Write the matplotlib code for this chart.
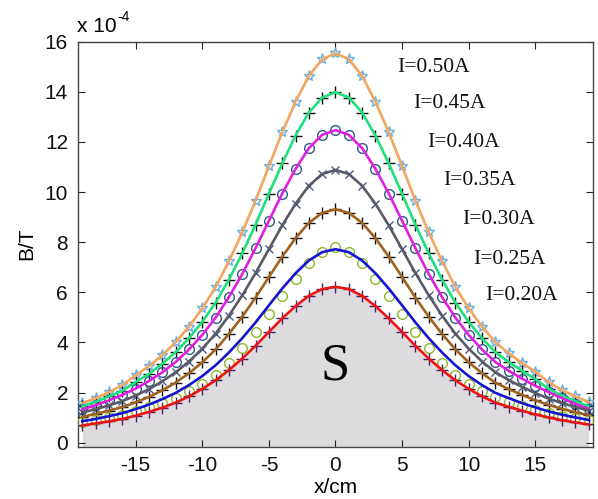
import matplotlib
matplotlib.use("Agg")
import matplotlib.pyplot as plt

plt.rcParams["axes.unicode_minus"] = False

x_cm = list(range(-19, 20))

red = [0.69,0.77,0.85,0.95,1.08,1.23,1.40,1.60,1.85,2.15,2.49,2.90,3.36,3.87,4.42,4.96,5.45,5.86,6.13,6.22,
       6.13,5.86,5.45,4.96,4.42,3.87,3.36,2.90,2.49,2.15,1.85,1.60,1.43,1.28,1.13,1.01,0.90,0.81,0.73]
blue = [0.86,0.95,1.06,1.18,1.34,1.52,1.74,1.99,2.30,2.66,3.09,3.60,4.17,4.80,5.48,6.15,6.76,7.27,7.60,7.72,
        7.60,7.27,6.76,6.15,5.48,4.80,4.17,3.60,3.09,2.66,2.30,1.99,1.78,1.58,1.41,1.25,1.12,1.01,0.91]
blue_pts = [0.84,0.92,1.02,1.12,1.26,1.42,1.60,1.80,2.05,2.35,2.72,3.20,3.77,4.42,5.12,5.85,6.55,7.15,7.60,7.80,
            7.60,7.15,6.55,5.85,5.12,4.42,3.77,3.20,2.72,2.35,2.05,1.82,1.62,1.45,1.30,1.17,1.06,0.97,0.89]
brown = [1.03,1.15,1.28,1.42,1.61,1.83,2.09,2.40,2.77,3.21,3.72,4.34,5.03,5.79,6.61,7.42,8.16,8.77,9.17,9.31,
         9.17,8.77,8.16,7.42,6.61,5.79,5.03,4.34,3.72,3.21,2.77,2.40,2.14,1.91,1.69,1.51,1.35,1.22,1.10]
gray = [1.21,1.34,1.49,1.66,1.88,2.14,2.45,2.81,3.24,3.75,4.35,5.07,5.88,6.77,7.72,8.67,9.53,10.25,10.72,10.88,
        10.72,10.25,9.53,8.67,7.72,6.77,5.88,5.07,4.35,3.75,3.24,2.81,2.50,2.23,1.98,1.76,1.58,1.43,1.28]
magenta = [1.33,1.50,1.69,1.91,2.16,2.46,2.81,3.22,3.72,4.30,4.99,5.81,6.73,7.76,8.85,9.94,10.92,11.75,12.28,12.47,
           12.28,11.75,10.92,9.94,8.85,7.76,6.73,5.81,4.99,4.30,3.72,3.22,2.87,2.56,2.27,2.02,1.78,1.55,1.35]
green = [1.45,1.63,1.85,2.08,2.42,2.75,3.15,3.61,4.17,4.82,5.59,6.51,7.55,8.70,9.93,11.14,12.25,13.17,13.77,13.98,
         13.77,13.17,12.25,11.14,9.93,8.70,7.55,6.51,5.59,4.82,4.17,3.61,3.22,2.87,2.54,2.15,1.88,1.66,1.45]
orange = [1.58,1.78,2.02,2.30,2.69,3.06,3.49,4.01,4.63,5.36,6.21,7.24,8.39,9.66,11.03,12.38,13.60,14.63,15.30,15.53,
          15.30,14.63,13.60,12.38,11.03,9.66,8.39,7.24,6.21,5.36,4.63,4.01,3.57,3.18,2.83,2.42,2.10,1.85,1.62]

labels = ["I=0.50A", "I=0.45A", "I=0.40A", "I=0.35A", "I=0.30A", "I=0.25A", "I=0.20A"]
label_x = [4.6, 5.8, 6.9, 8.05, 9.5, 10.3, 11.2]
label_y = [14.95, 13.54, 11.97, 10.47, 8.9, 7.29, 5.88]
xticks = [-15, -10, -5, 0, 5, 10, 15]
yticks = [0, 2, 4, 6, 8, 10, 12, 14, 16]

fig = plt.figure(figsize=(5.98, 4.99), dpi=100)
ax = fig.add_axes([0.130, 0.1052, 0.8616, 0.8114])

ax.fill_between(x_cm, -1, red, color="#dddbdd", lw=0, zorder=1)

series = [
    (orange, orange, "#f2a65e", "*", "#6aaee0", 8),
    (green, green, "#1fe07c", "+", "#111111", 9),
    (magenta, magenta, "#e020e0", "o", "#2c5a86", 7),
    (gray, gray, "#5a5a66", "x", "#4a5a8c", 6),
    (brown, brown, "#a0621e", "+", "#111111", 9),
    (blue, blue_pts, "#1414d2", "o", "#8cb828", 7),
    (red, red, "#ec1414", "+", "#4a2468", 9),
]
for line_vals, pt_vals, lc, mk, mc, ms in series:
    ax.plot(x_cm, pt_vals, linestyle="none", marker=mk, markersize=ms,
            markerfacecolor="none", markeredgecolor=mc, markeredgewidth=1.0, zorder=3)
    ax.plot(x_cm, line_vals, color=lc, lw=1.9, zorder=4)

for t, lx, ly in zip(labels, label_x, label_y):
    ax.text(lx, ly, t, fontsize=15.5, family="Liberation Serif", va="center", ha="left",
            color="#111111", zorder=5)

ax.text(0.0, 3.04, "S", fontsize=38, family="Liberation Serif", ha="center", va="center", zorder=5)

ax.set_xlim(-19.35, 19.33)
ax.set_ylim(-0.15, 16.0)
ax.set_xticks(xticks)
ax.set_yticks(yticks)
ax.tick_params(direction="in", top=True, right=True, length=5, width=0.8,
               labelsize=15, colors="#222222", labelcolor="#111111", pad=7)
for sp in ax.spines.values():
    sp.set_color("#444444")
    sp.set_linewidth(1.0)
for lbl in ax.get_xticklabels() + ax.get_yticklabels():
    lbl.set_family("Liberation Sans")

ax.set_xlabel("x/cm", fontsize=15, family="Liberation Sans", labelpad=2)
ax.set_ylabel("B/T", fontsize=15, family="Liberation Sans", labelpad=6)

fig.text(77 / 598, 1 - 27 / 499, "x 10", fontsize=15, family="Liberation Sans", va="center", ha="left")
fig.text(117 / 598, 1 - 17 / 499, "-4", fontsize=10, family="Liberation Sans", va="center", ha="left")

fig.savefig("out.png", dpi=100)
